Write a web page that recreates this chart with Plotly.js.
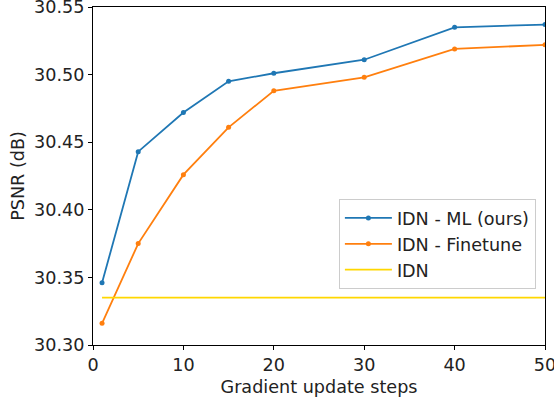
<!DOCTYPE html>
<html>
<head>
<meta charset="utf-8">
<script src="https://cdn.plot.ly/plotly-3.0.1.min.js"></script>
<style>html,body{margin:0;padding:0;background:#fff;}#chart{width:554px;height:398px;}</style>
</head>
<body>
<div id="chart"></div>
<script>
var steps = [1, 5, 10, 15, 20, 30, 40, 50];
var idnML = [30.346, 30.443, 30.472, 30.495, 30.501, 30.511, 30.535, 30.537];
var idnFinetune = [30.316, 30.375, 30.426, 30.461, 30.488, 30.498, 30.519, 30.522];
var idnBaseline = [30.335, 30.335, 30.335, 30.335, 30.335, 30.335, 30.335, 30.335];
var seriesNames = ["IDN - ML (ours)", "IDN - Finetune", "IDN"];
var xTicks = [0, 10, 20, 30, 40, 50];
var xTickText = ['0','10','20','30','40','50'];
var yTicks = [30.30, 30.35, 30.40, 30.45, 30.50, 30.55];
var yTickText = ['30.30','30.35','30.40','30.45','30.50','30.55'];

var traces = [
  {x: steps, y: idnML, name: seriesNames[0], type: 'scatter', mode: 'lines+markers',
   line: {color: '#1f77b4', width: 1.8}, marker: {color: '#1f77b4', size: 5}},
  {x: steps, y: idnFinetune, name: seriesNames[1], type: 'scatter', mode: 'lines+markers',
   line: {color: '#ff7f0e', width: 1.8}, marker: {color: '#ff7f0e', size: 5}},
  {x: steps, y: idnBaseline, name: seriesNames[2], type: 'scatter', mode: 'lines',
   line: {color: '#ffd700', width: 1.8}}
];

var FS = 17.6;
var layout = {
  width: 554, height: 398,
  margin: {l: 93, r: 9, t: 7, b: 53},
  paper_bgcolor: '#fff', plot_bgcolor: '#fff',
  font: {family: 'DejaVu Sans, sans-serif', size: FS, color: '#222'},
  showlegend: true,
  legend: {x: 0.544, y: 0.432, xanchor: 'left', yanchor: 'top',
    bgcolor: 'rgba(255,255,255,0.8)', bordercolor: '#cccccc', borderwidth: 1,
    font: {size: FS, color: '#222'}, tracegroupgap: 0, itemwidth: 47},
  xaxis: {range: [0, 50], tickvals: xTicks, ticktext: xTickText,
    showgrid: false, zeroline: false, showline: true, mirror: true, linecolor: '#000', linewidth: 1,
    ticks: 'outside', ticklen: 4, tickcolor: '#000', tickfont: {size: FS}, ticklabeloverflow: 'allow',
    title: {text: 'Gradient update steps', font: {size: FS}, standoff: 6}},
  yaxis: {range: [30.30, 30.55], tickvals: yTicks, ticktext: yTickText,
    showgrid: false, zeroline: false, showline: true, mirror: true, linecolor: '#000', linewidth: 1,
    ticks: 'outside', ticklen: 4, tickcolor: '#000', tickfont: {size: FS}, ticklabeloverflow: 'allow',
    title: {text: 'PSNR (dB)', font: {size: FS}, standoff: 4}}
};

Plotly.newPlot('chart', traces, layout, {displayModeBar: false, staticPlot: true});
</script>
</body>
</html>
